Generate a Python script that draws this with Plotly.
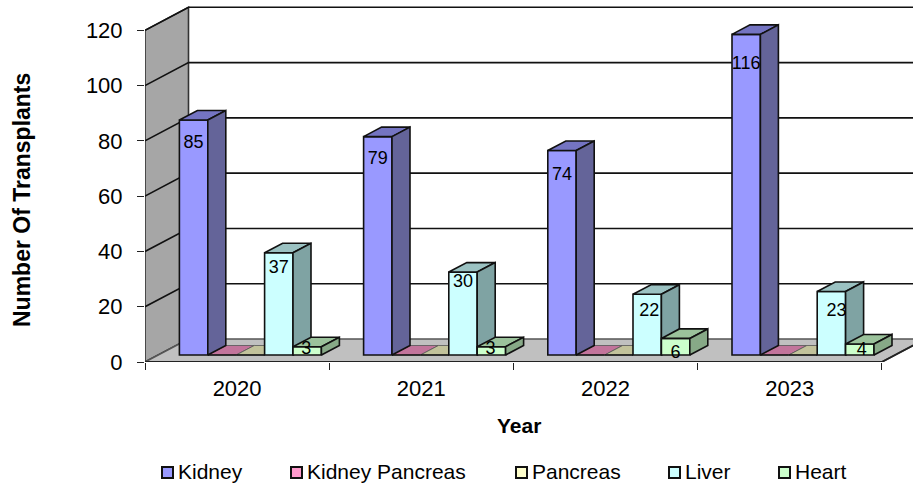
import plotly.graph_objects as go

years = ["2020", "2021", "2022", "2023"]
series_names = ["Kidney", "Kidney Pancreas", "Pancreas", "Liver", "Heart"]
kidney = [85, 79, 74, 116]
kidney_pancreas = [0, 0, 0, 0]
pancreas = [0, 0, 0, 0]
liver = [37, 30, 22, 23]
heart = [3, 3, 6, 4]
y_ticks = [0, 20, 40, 60, 80, 100, 120]

series_values = [kidney, kidney_pancreas, pancreas, liver, heart]
front_colors = ["#9999FF", "#FF99CC", "#FFFFCC", "#CCFFFF", "#CCFFCC"]
top_colors = ["#7474C2", "#C2749B", "#C2C29B", "#9BC2C2", "#9BC29B"]
side_colors = ["#646499", "#99648A", "#99997A", "#7FA3A3", "#87A987"]
EDGE = "#111111"

# where each value label sits: height on the value axis, and a sideways nudge in px
label_heights = {0: [78.9, 73.1, 67.3, 107.5], 3: [34.0, 28.6, 18.1, 18.1], 4: [4.7, 4.7, 2.9, 4.0]}
label_nudges = {0: [0, 0, 0, 0], 3: [0, 0, 2, 5], 4: [-1, -1, 0, 2]}

# pixel scale of the axes
PX_X = 184.2   # px per category
PX_Y = 2.764   # px per transplant
WIDTH, HEIGHT = 913, 487
M_L, M_T, M_B = 145, 4, 125
X_MAX = (WIDTH - M_L) / PX_X
Y_MAX = (HEIGHT - M_T - M_B) / PX_Y

# oblique projection, in axis units
WALL_DX, WALL_DY = 43.5 / PX_X, 23 / PX_Y
BAR_DX, BAR_DY = 18 / PX_X, 9.5 / PX_Y
BASE_DX, BASE_DY = 13.3 / PX_X, 7 / PX_Y
BAR_W = 28.4 / PX_X
GAP = (1 - 5 * BAR_W) / 2

fig = go.Figure()


def poly(xs, ys, fill, axes=("x", "y"), line=EDGE, lw=1.6):
    fig.add_trace(go.Scatter(
        x=xs + xs[:1], y=ys + ys[:1], mode="lines", fill="toself", fillcolor=fill,
        line=dict(color=line, width=lw), hoverinfo="skip", showlegend=False,
        xaxis=axes[0], yaxis=axes[1]))


def seg(xs, ys, color=EDGE, lw=1.6):
    fig.add_trace(go.Scatter(x=xs, y=ys, mode="lines", line=dict(color=color, width=lw),
                             hoverinfo="skip", showlegend=False, xaxis="x", yaxis="y"))


# side wall, floor and back-wall grid
poly([0, WALL_DX, WALL_DX, 0], [0, WALL_DY, 120 + WALL_DY, 120], "#A6A6A6", line="#333333")
for v in y_ticks[1:]:
    seg([0, WALL_DX, X_MAX + 1], [v, v + WALL_DY, v + WALL_DY])
poly([0, 4, 4 + WALL_DX, WALL_DX], [0, 0, WALL_DY, WALL_DY], "#C0C0C0", line="#555555")
seg([0, 4, 4 + WALL_DX], [0, 0, WALL_DY], "#222222", 1.8)

for s, vals in enumerate(series_values):
    axes = ("x3", "y3") if s == 4 else ("x2", "y2")
    centers = [g + GAP + BASE_DX + (s + 0.5) * BAR_W for g in range(len(years))]
    fig.add_trace(go.Bar(
        x=centers, y=vals, base=BASE_DY, width=BAR_W, name=series_names[s],
        marker=dict(color=front_colors[s], line=dict(color=EDGE, width=1.6)),
        hoverinfo="x+y", showlegend=False, xaxis=axes[0], yaxis=axes[1]))
    for c, v in zip(centers, vals):
        left, right = c - BAR_W / 2, c + BAR_W / 2
        top = BASE_DY + v
        # zero-height tiles have to sit behind the next tall bar
        top_axes = ("x", "y") if v == 0 else axes
        poly([left, right, right + BAR_DX, left + BAR_DX],
             [top, top, top + BAR_DY, top + BAR_DY], top_colors[s], top_axes,
             line="#555555" if v == 0 else EDGE, lw=0.8 if v == 0 else 1.6)
        if v > 0:
            poly([right, right + BAR_DX, right + BAR_DX, right],
                 [BASE_DY, BASE_DY + BAR_DY, top + BAR_DY, top], side_colors[s], axes)

FONT = "Liberation Sans, Arial, sans-serif"

# value labels
for s, heights in label_heights.items():
    vals = series_values[s]
    fig.add_trace(go.Scatter(
        x=[g + GAP + BASE_DX + (s + 0.5) * BAR_W + label_nudges[s][g] / PX_X for g in range(len(years))],
        y=heights, text=[str(v) for v in vals], mode="text", textposition="middle center",
        textfont=dict(family=FONT, size=18, color="#000000"),
        hoverinfo="skip", showlegend=False, xaxis="x3", yaxis="y3"))

hidden = dict(range=[0, X_MAX], visible=False, fixedrange=True)
hidden_y = dict(range=[0, Y_MAX], visible=False, fixedrange=True)

fig.update_layout(
    width=WIDTH, height=HEIGHT, margin=dict(l=M_L, r=0, t=M_T, b=M_B, pad=0),
    paper_bgcolor="#FFFFFF", plot_bgcolor="#FFFFFF", barmode="overlay", showlegend=False,
    font=dict(family=FONT, size=21, color="#000000"),
    xaxis=dict(range=[0, X_MAX], tickmode="array", tickvals=[i + 0.5 for i in range(4)],
               ticktext=years, ticks="", showgrid=False, zeroline=False, showline=False,
               tickfont=dict(size=22), ticklabelstandoff=11,
               minor=dict(tickmode="array", tickvals=[0, 1, 2, 3, 4], ticks="outside",
                          ticklen=7, tickwidth=1, tickcolor="#222222", showgrid=False),
               fixedrange=True),
    yaxis=dict(range=[0, Y_MAX], tickmode="array", tickvals=y_ticks, ticks="outside",
               ticklen=7, tickwidth=1, tickcolor="#222222", showgrid=False, zeroline=False,
               showline=False, tickfont=dict(size=22), ticklabelstandoff=10,
               fixedrange=True),
    xaxis2=dict(hidden, overlaying="x"), yaxis2=dict(hidden_y, overlaying="y", anchor="x2"),
    xaxis3=dict(hidden, overlaying="x"), yaxis3=dict(hidden_y, overlaying="y", anchor="x3"),
)

PLOT_W, PLOT_H = WIDTH - M_L, HEIGHT - M_T - M_B


def paper_x(px):
    return (px - M_L) / PLOT_W


def paper_y(py):
    return (HEIGHT - M_B - py) / PLOT_H


fig.add_annotation(text="<b>Number Of Transplants</b>", textangle=-90, xref="paper", yref="paper",
                   x=paper_x(22), y=paper_y(200), showarrow=False, xanchor="center", yanchor="middle",
                   font=dict(size=23, family=FONT))
fig.add_annotation(text="<b>Year</b>", xref="paper", yref="paper",
                   x=paper_x(519), y=paper_y(425), showarrow=False, xanchor="center", yanchor="middle",
                   font=dict(size=21, family=FONT))

# legend row
legend_swatch_x = [161, 290, 515, 668, 778]
for name, color, px in zip(series_names, front_colors, legend_swatch_x):
    fig.add_shape(type="rect", xref="paper", yref="paper",
                  x0=paper_x(px + 1), x1=paper_x(px + 12), y0=paper_y(478), y1=paper_y(467),
                  fillcolor=color, line=dict(color=EDGE, width=2))
    fig.add_annotation(text=name, xref="paper", yref="paper", showarrow=False,
                       x=paper_x(px + 15), y=paper_y(471),
                       xanchor="left", yanchor="middle", font=dict(size=21, family=FONT))

fig.write_html("out.html", config=dict(displayModeBar=False),
               post_script="document.body.style.margin='0';document.body.style.overflow='hidden';")
